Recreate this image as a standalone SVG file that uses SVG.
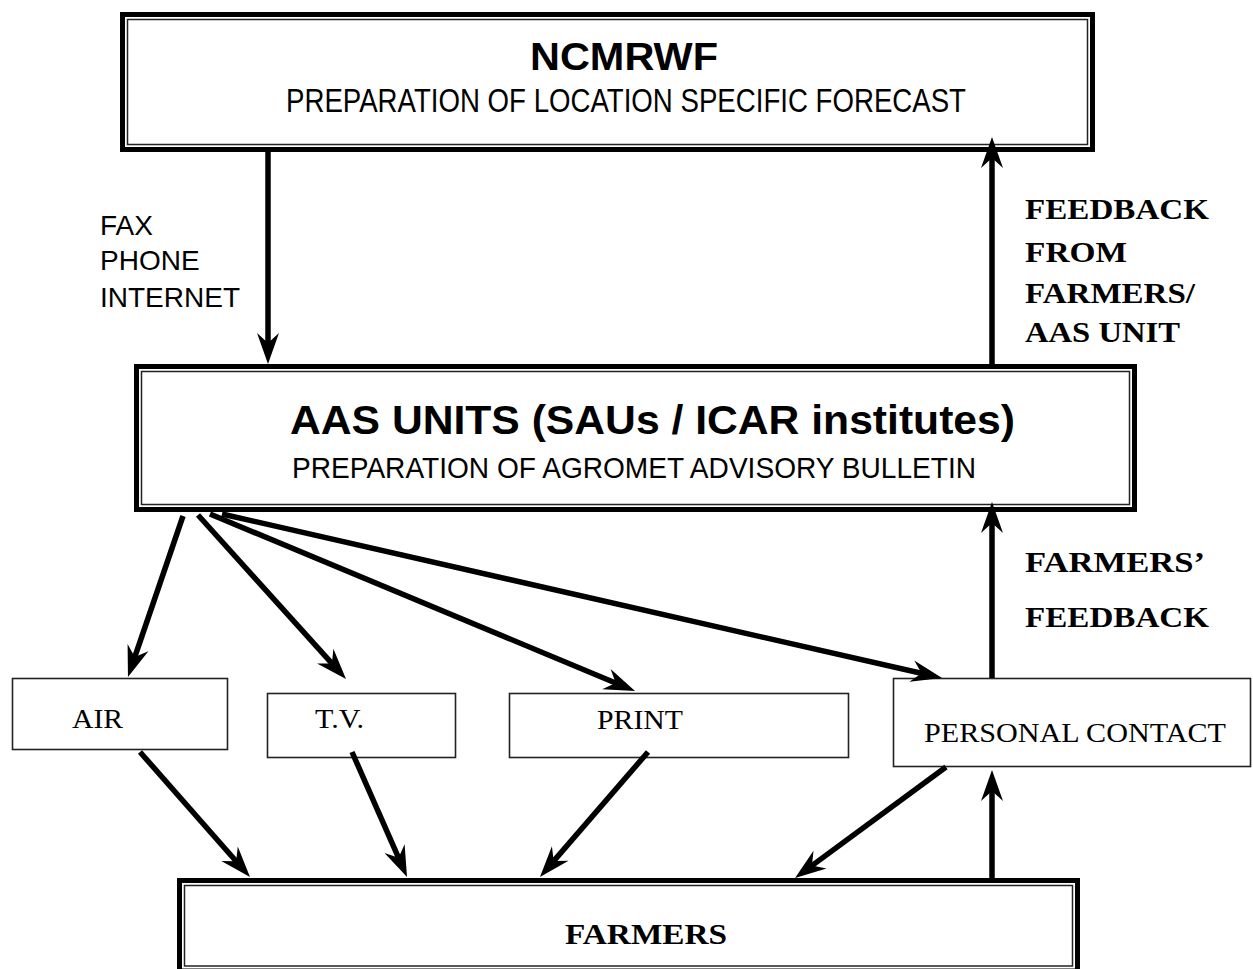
<svg xmlns="http://www.w3.org/2000/svg" width="1253" height="969" viewBox="0 0 1253 969">
<style>
.outer{fill:#fff;stroke:#000;stroke-width:5}
.inner{fill:none;stroke:#222;stroke-width:1.5}
.box{fill:#fff;stroke:#222;stroke-width:1.6}
.sans{font-family:"Liberation Sans",Arial,sans-serif;fill:#000}
.serif{font-family:"Liberation Serif","Times New Roman",serif;fill:#000}
.conn line{stroke:#000;stroke-width:5.5;marker-end:url(#ah)}
</style>
<defs>
<marker id="ah" markerUnits="userSpaceOnUse" markerWidth="45" markerHeight="30" refX="30" refY="15" orient="auto" overflow="visible">
<path d="M40,15 L9,4 L19,15 L9,26 Z" fill="#000"/>
</marker>
</defs>
<rect width="1253" height="969" fill="#fff"/>

<g id="ncmrwf">
<rect class="outer" x="122.5" y="14.5" width="970" height="135"/>
<rect class="inner" x="127.5" y="19.5" width="960" height="125"/>
<text class="sans" x="624" y="70" font-size="39" font-weight="bold" text-anchor="middle" textLength="188" lengthAdjust="spacingAndGlyphs">NCMRWF</text>
<text class="sans" x="286" y="112" font-size="34" textLength="680" lengthAdjust="spacingAndGlyphs">PREPARATION OF LOCATION SPECIFIC FORECAST</text>
</g>

<g id="aas">
<rect class="outer" x="136.5" y="366.5" width="998" height="143"/>
<rect class="inner" x="141.5" y="371.5" width="988" height="133"/>
<text class="sans" x="290" y="434" font-size="40" font-weight="bold" textLength="725" lengthAdjust="spacingAndGlyphs">AAS UNITS (SAUs / ICAR institutes)</text>
<text class="sans" x="292" y="478" font-size="30" textLength="684" lengthAdjust="spacingAndGlyphs">PREPARATION OF AGROMET ADVISORY BULLETIN</text>
</g>

<g id="farmers">
<rect class="outer" x="179.5" y="880.5" width="898" height="90.5"/>
<rect class="inner" x="184.5" y="885.5" width="888" height="80.5"/>
<text class="serif" x="565" y="944" font-size="29" font-weight="bold" textLength="162" lengthAdjust="spacingAndGlyphs">FARMERS</text>
</g>

<g id="air">
<rect class="box" x="12.5" y="678.5" width="215" height="71"/>
<text class="serif" x="72" y="728" font-size="27" textLength="51" lengthAdjust="spacingAndGlyphs">AIR</text>
</g>

<g id="tv">
<rect class="box" x="267.5" y="693.5" width="188" height="64"/>
<text class="serif" x="315" y="728" font-size="27" textLength="49" lengthAdjust="spacingAndGlyphs">T.V.</text>
</g>

<g id="print">
<rect class="box" x="509.5" y="693.5" width="339" height="64"/>
<text class="serif" x="597" y="729" font-size="27" textLength="86" lengthAdjust="spacingAndGlyphs">PRINT</text>
</g>

<g id="personal-contact">
<rect class="box" x="893.5" y="678.5" width="357" height="88"/>
<text class="serif" x="924" y="742" font-size="27" textLength="302" lengthAdjust="spacingAndGlyphs">PERSONAL CONTACT</text>
</g>

<g id="labels">
<text class="sans" x="100" y="235" font-size="28">FAX</text>
<text class="sans" x="100" y="270" font-size="28">PHONE</text>
<text class="sans" x="100" y="307" font-size="28">INTERNET</text>
<text class="serif" x="1025" y="219" font-size="29" font-weight="bold" textLength="184" lengthAdjust="spacingAndGlyphs">FEEDBACK</text>
<text class="serif" x="1025" y="262" font-size="29" font-weight="bold" textLength="102" lengthAdjust="spacingAndGlyphs">FROM</text>
<text class="serif" x="1025" y="303" font-size="29" font-weight="bold" textLength="170" lengthAdjust="spacingAndGlyphs">FARMERS/</text>
<text class="serif" x="1025" y="342" font-size="29" font-weight="bold" textLength="155" lengthAdjust="spacingAndGlyphs">AAS UNIT</text>
<text class="serif" x="1025" y="572" font-size="29" font-weight="bold" textLength="180" lengthAdjust="spacingAndGlyphs">FARMERS’</text>
<text class="serif" x="1025" y="627" font-size="29" font-weight="bold" textLength="184" lengthAdjust="spacingAndGlyphs">FEEDBACK</text>
</g>

<g id="connectors" class="conn">
<line x1="268" y1="152" x2="268" y2="354"/>
<line x1="992" y1="364" x2="992" y2="147"/>
<line x1="992" y1="678" x2="992" y2="512"/>
<line x1="992" y1="878" x2="992" y2="780"/>
<line x1="183" y1="516" x2="131.2" y2="667.5"/>
<line x1="198" y1="515" x2="339.3" y2="671.6"/>
<line x1="210" y1="514" x2="625.8" y2="687.2"/>
<line x1="222" y1="514" x2="932.3" y2="675.8"/>
<line x1="140" y1="752" x2="243.4" y2="869.5"/>
<line x1="352" y1="752" x2="403" y2="867.9"/>
<line x1="648" y1="752" x2="546.5" y2="869.4"/>
<line x1="946" y1="767" x2="803.1" y2="872.1"/>
</g>
</svg>
